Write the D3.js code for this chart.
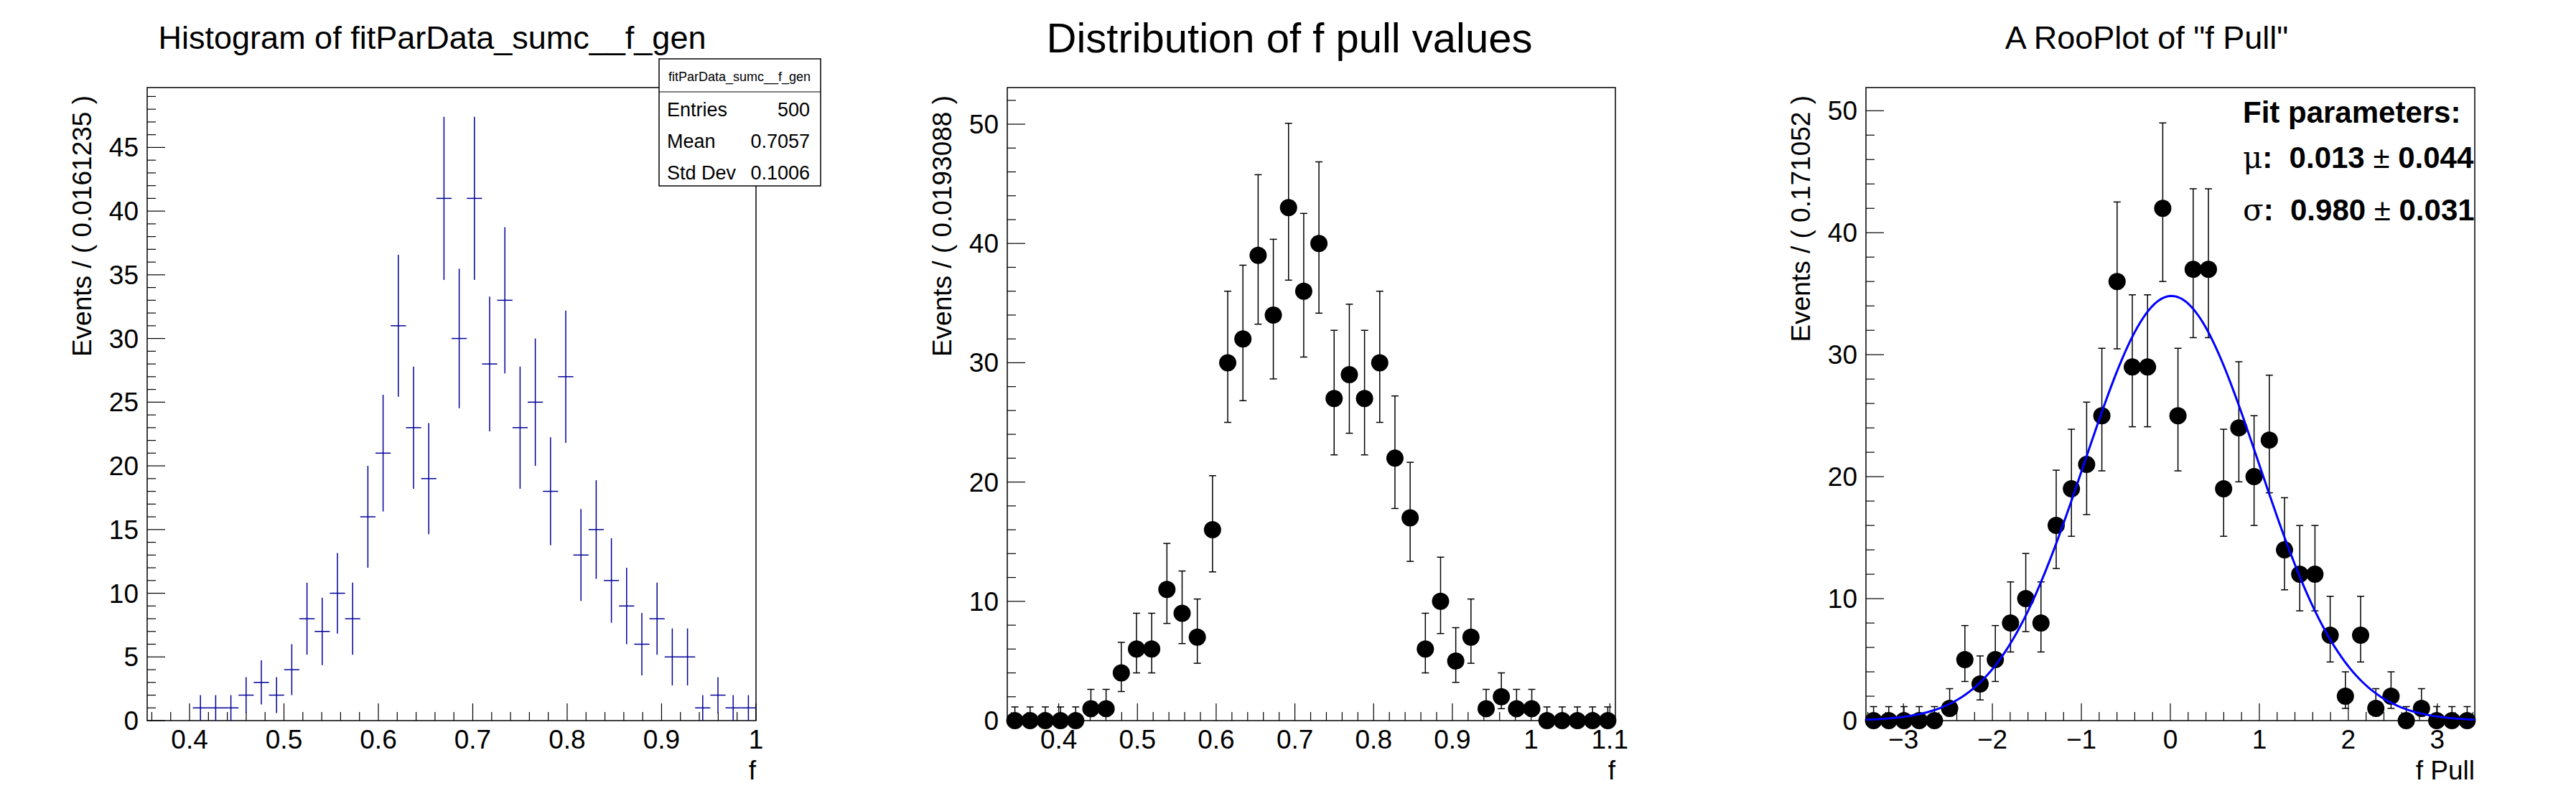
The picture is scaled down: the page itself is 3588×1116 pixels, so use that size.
<!DOCTYPE html>
<html lang="en">
<head>
<meta charset="utf-8">
<script src="https://d3js.org/d3.v7.min.js"></script>
<style>
  body { margin: 0; background: white; }
  svg text { font-family: "Liberation Sans", Arial, sans-serif; }
</style>
</head>
<body>
<svg id="chart" width="3588" height="1116"></svg>
<script>
// histogram of generated f (bins 3..39 filled; first three empty)
var genBinWidth = 0.0161235
var genMin = 0.3551
var genCounts = [0,0,0,1,1,1,2,3,2,4,8,7,10,8,16,21,31,23,19,41,30,41,28,33,23,25,18,27,13,15,11,9,6,8,5,5,1,2,1,1]

// RooPlot of f
var fBinWidth = 0.0193088
var fMin = 0.3347
var fCounts = [0,0,0,0,0,1,1,4,6,6,11,9,7,16,30,32,39,34,43,36,40,27,29,27,30,22,17,6,10,5,7,1,2,1,1,0,0,0,0,0]

// pull distribution
var pullBinWidth = 0.171052
var pullMin = -3.42104
var pullCounts = [0,0,0,0,0,1,5,3,5,8,10,8,16,19,21,25,36,29,29,42,25,37,37,19,24,20,23,14,12,12,7,2,7,1,2,0,1,0,0,0]
var fitMu = 0.013, fitSigma = 0.980

var statRows = [["Entries", "500"], ["Mean", "0.7057"], ["Std Dev", "0.1006"]]

var svg = d3.select("#chart")
svg.append("rect").attr("width", 3588).attr("height", 1116).attr("fill", "white")

var frameTop = 122, frameBottom = 1004

// Poisson-like asymmetric errors as RooFit draws them
function poisErr(n) {
  if (n === 0) return [0, 1.148]
  return [n - (Math.sqrt(n + 0.25) - 0.5), n + (Math.sqrt(n + 0.25) + 0.5)]
}

function panel(opt) {
  var g = svg.append("g")
  var x = d3.scaleLinear().domain(opt.xdom).range([opt.left, opt.right])
  var y = d3.scaleLinear().domain([0, opt.ymax]).range([frameBottom, frameTop])

  g.append("rect").attr("x", opt.left).attr("y", frameTop)
    .attr("width", opt.right - opt.left).attr("height", frameBottom - frameTop)
    .attr("fill", "none").attr("stroke", "black").attr("stroke-width", 1.5)

  // ticks inside frame
  var xmin = d3.range(Math.ceil(opt.xdom[0] / opt.xminor - 1e-6), Math.floor(opt.xdom[1] / opt.xminor + 1e-6) + 1)
  xmin.forEach(function (k) {
    var v = k * opt.xminor
    var major = Math.abs(v / opt.xmajor - Math.round(v / opt.xmajor)) < 1e-6
    g.append("line").attr("x1", x(v)).attr("x2", x(v))
      .attr("y1", frameBottom).attr("y2", frameBottom - (major ? 24 : 12))
      .attr("stroke", "black").attr("stroke-width", 1.2)
  })
  d3.range(0, opt.ymax + 1e-6, opt.yminor).forEach(function (v) {
    var major = Math.abs(v / opt.ymajor - Math.round(v / opt.ymajor)) < 1e-6
    g.append("line").attr("x1", opt.left).attr("x2", opt.left + (major ? 25 : 12))
      .attr("y1", y(v)).attr("y2", y(v))
      .attr("stroke", "black").attr("stroke-width", 1.2)
  })
  opt.xlabels.forEach(function (v) {
    g.append("text").attr("x", x(v)).attr("y", frameBottom + 39)
      .attr("text-anchor", "middle").attr("font-size", 37)
      .text(opt.xfmt(v))
  })
  d3.range(0, opt.ymax + 1e-6, opt.ymajor).forEach(function (v) {
    g.append("text").attr("x", opt.left - 12).attr("y", y(v) + 13)
      .attr("text-anchor", "end").attr("font-size", 37).text(v)
  })
  g.append("text").attr("transform", "translate(" + (opt.left - 78) + "," + (frameTop + 11) + ") rotate(-90)")
    .attr("text-anchor", "end").attr("font-size", 37).text(opt.ytitle)
  g.append("text").attr("x", opt.right).attr("y", frameBottom + 82)
    .attr("text-anchor", "end").attr("font-size", 37).text(opt.xtitle)
  g.append("text").attr("x", opt.tx).attr("y", opt.ty)
    .attr("text-anchor", "middle").attr("font-size", opt.tsize).text(opt.title)
  return { g: g, x: x, y: y }
}

// ---- panel 1: histogram with errors
var p1 = panel({
  left: 205, right: 1053, xdom: [genMin, genMin + 40 * genBinWidth], ymax: 49.7,
  xmajor: 0.1, xminor: 0.02, ymajor: 5, yminor: 1,
  xlabels: [0.4, 0.5, 0.6, 0.7, 0.8, 0.9, 1.0], xfmt: function (v) { return v === 1 ? "1" : v.toFixed(1) },
  ytitle: "Events / ( 0.0161235 )", xtitle: "f",
  title: "Histogram of fitParData_sumc__f_gen", tx: 602, ty: 68, tsize: 45
})
genCounts.forEach(function (n, i) {
  if (n === 0) return
  var x0 = genMin + i * genBinWidth, xc = x0 + genBinWidth / 2
  var e = Math.sqrt(n)
  p1.g.append("line").attr("x1", p1.x(x0)).attr("x2", p1.x(x0 + genBinWidth))
    .attr("y1", p1.y(n)).attr("y2", p1.y(n)).attr("stroke", "#000099").attr("stroke-width", 1.5)
  p1.g.append("line").attr("x1", p1.x(xc)).attr("x2", p1.x(xc))
    .attr("y1", p1.y(n - e)).attr("y2", p1.y(Math.min(n + e, 49.7))).attr("stroke", "#000099").attr("stroke-width", 1.5)
})
// stat box
var sb = svg.append("g")
sb.append("rect").attr("x", 918).attr("y", 82).attr("width", 225).attr("height", 177)
  .attr("fill", "white").attr("stroke", "black").attr("stroke-width", 1.5)
sb.append("line").attr("x1", 918).attr("x2", 1143).attr("y1", 128).attr("y2", 128).attr("stroke", "black").attr("stroke-width", 1.2)
sb.append("text").attr("x", 1030).attr("y", 113).attr("text-anchor", "middle").attr("font-size", 18).text("fitParData_sumc__f_gen")
statRows.forEach(function (r, i) {
  var yy = 162 + i * 44
  sb.append("text").attr("x", 929).attr("y", yy).attr("font-size", 27).text(r[0])
  sb.append("text").attr("x", 1128).attr("y", yy).attr("text-anchor", "end").attr("font-size", 27).text(r[1])
})

// ---- points with errors
function drawPoints(p, counts, xmin, bw, ymax) {
  counts.forEach(function (n, i) {
    var xc = p.x(xmin + (i + 0.5) * bw)
    var e = poisErr(n)
    p.g.append("line").attr("x1", xc).attr("x2", xc).attr("y1", p.y(e[0])).attr("y2", p.y(Math.min(e[1], ymax)))
      .attr("stroke", "black").attr("stroke-width", 1.5)
    ;[e[0], e[1]].forEach(function (v) {
      if (v <= 0 || v > ymax) return
      p.g.append("line").attr("x1", xc - 5).attr("x2", xc + 5).attr("y1", p.y(v)).attr("y2", p.y(v))
        .attr("stroke", "black").attr("stroke-width", 1.5)
    })
  })
  counts.forEach(function (n, i) {
    p.g.append("circle").attr("cx", p.x(xmin + (i + 0.5) * bw)).attr("cy", p.y(n)).attr("r", 12).attr("fill", "black")
  })
}

var p2 = panel({
  left: 1403, right: 2250, xdom: [fMin, fMin + 40 * fBinWidth], ymax: 53.07,
  xmajor: 0.1, xminor: 0.02, ymajor: 10, yminor: 2,
  xlabels: [0.4, 0.5, 0.6, 0.7, 0.8, 0.9, 1.0, 1.1], xfmt: function (v) { return v === 1 ? "1" : v.toFixed(1) },
  ytitle: "Events / ( 0.0193088 )", xtitle: "f",
  title: "Distribution of f pull values", tx: 1796, ty: 73, tsize: 58
})
drawPoints(p2, fCounts, fMin, fBinWidth, 53.07)

var p3 = panel({
  left: 2599, right: 3447, xdom: [pullMin, pullMin + 40 * pullBinWidth], ymax: 51.9,
  xmajor: 1, xminor: 0.2, ymajor: 10, yminor: 2,
  xlabels: [-3, -2, -1, 0, 1, 2, 3], xfmt: function (v) { return v < 0 ? "\u2212" + (-v) : String(v) },
  ytitle: "Events / ( 0.171052 )", xtitle: "f Pull",
  title: "A RooPlot of \"f Pull\"", tx: 2990, ty: 68, tsize: 45
})
drawPoints(p3, pullCounts, pullMin, pullBinWidth, 51.9)
// fitted gaussian model from the fit parameters
var norm = 500 * pullBinWidth / (fitSigma * Math.sqrt(2 * Math.PI))
var curveX = d3.range(0, 201).map(function (k) { return pullMin + k * (40 * pullBinWidth) / 200 })
p3.g.append("path")
  .attr("d", d3.line()
    .x(function (v) { return p3.x(v) })
    .y(function (v) { return p3.y(norm * Math.exp(-0.5 * Math.pow((v - fitMu) / fitSigma, 2))) })(curveX))
  .attr("fill", "none").attr("stroke", "#0000ff").attr("stroke-width", 3)

var ft = svg.append("g").attr("font-size", 42).attr("font-weight", "bold")
ft.append("text").attr("x", 3124).attr("y", 171).text("Fit parameters:")
var t1 = ft.append("text").attr("x", 3124).attr("y", 234)
t1.append("tspan").attr("font-weight", "normal").attr("font-family", "DejaVu Serif").text("\u03bc")
t1.append("tspan").attr("xml:space", "preserve").text(":  0.013 ")
t1.append("tspan").attr("font-weight", "normal").text("\u00b1")
t1.append("tspan").text(" 0.044")
var t2 = ft.append("text").attr("x", 3124).attr("y", 307)
t2.append("tspan").attr("font-weight", "normal").attr("font-family", "DejaVu Serif").text("\u03c3")
t2.append("tspan").attr("xml:space", "preserve").text(":  0.980 ")
t2.append("tspan").attr("font-weight", "normal").text("\u00b1")
t2.append("tspan").text(" 0.031")
</script>
</body>
</html>
